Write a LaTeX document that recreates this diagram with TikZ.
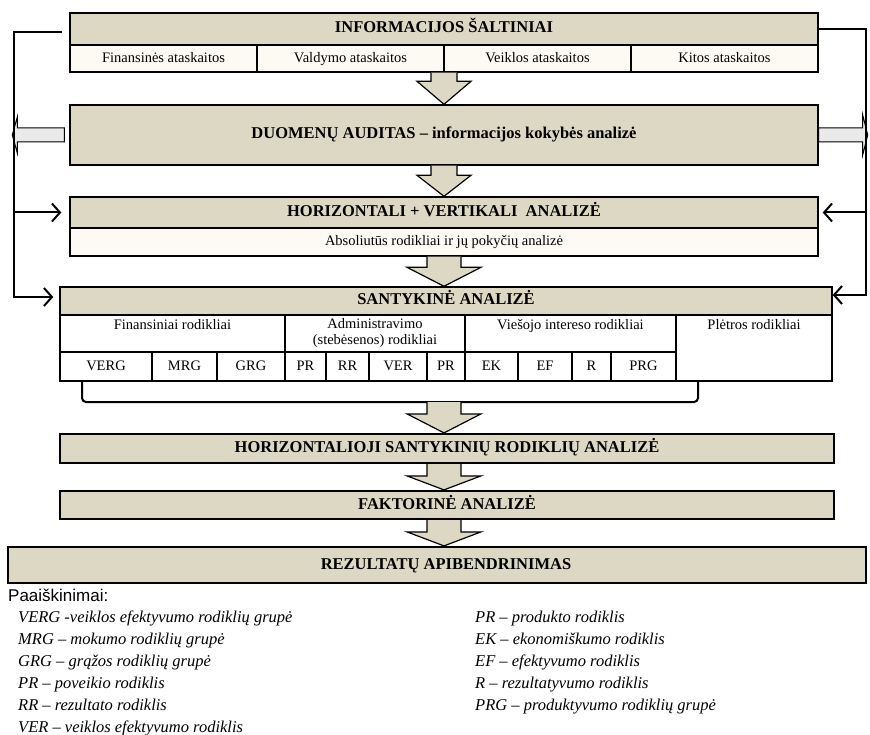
\documentclass[tikz,border=0pt]{standalone}
\usepackage{fontspec}
\setmainfont{Liberation Serif}
\setsansfont{Liberation Sans}
\usepackage{tikz}
\usetikzlibrary{arrows.meta,calc}

\definecolor{boxtan}{RGB}{221,216,196}
\definecolor{rowcream}{RGB}{252,250,242}
\definecolor{hollowgray}{RGB}{234,234,234}

% shaft half width, head half width, head length, from, to
\newcommand{\blockarrow}[5]{%
  \filldraw[blockarr] let \p1=(axis |- #4), \p2=(axis |- #5) in
    (\x1-#1pt,\y1) -- (\x1-#1pt,\y2+#3pt) -- (\x1-#2pt,\y2+#3pt) -- (\x2,\y2)
    -- (\x1+#2pt,\y2+#3pt) -- (\x1+#1pt,\y2+#3pt) -- (\x1+#1pt,\y1);}

\begin{document}
\begin{tikzpicture}[x=1pt,y=-1pt]
\tikzstyle{hdr}=[draw=black,line width=1.4pt,fill=boxtan,inner sep=0pt,text height=11.5pt,text depth=3.5pt,font=\fontsize{16.5}{18}\selectfont\bfseries]
\tikzstyle{sub}=[draw=black,line width=1.4pt,fill=rowcream,inner sep=0pt,text height=10.5pt,text depth=3pt,font=\fontsize{14.5}{16}\selectfont]
\tikzstyle{cell}=[draw=black,line width=1.4pt,fill=white,inner sep=0pt,minimum height=29pt,text height=10.5pt,text depth=3pt,font=\fontsize{14.5}{16}\selectfont]
\tikzstyle{grptext}=[anchor=north,yshift=-4pt,inner sep=0pt,align=center,text height=10.5pt,text depth=3pt,font=\fontsize{14.5}{16}\selectfont]
\tikzstyle{bar}=[hdr,line width=2.2pt]
\tikzstyle{blockarr}=[draw=black,line width=1.2pt,fill=boxtan,line join=miter]
\tikzstyle{fb}=[draw=black,line width=2pt]
\tikzstyle{fbarr}=[fb,-{Straight Barb[length=8pt,width=18pt]}]
\tikzstyle{hollow}=[draw=black,line width=1pt,fill=hollowgray]
\tikzstyle{legend}=[anchor=west,inner sep=0pt,text height=12pt,text depth=4pt,font=\fontsize{16.5}{18}\selectfont\itshape]
\useasboundingbox (0,0) rectangle (870,735);
\coordinate (axis) at (444,0);
\coordinate (lx) at (14,0);
\coordinate (rx) at (866,0);

% information sources
\node[hdr,minimum width=748pt,minimum height=32pt] (info) at (444,29) {INFORMACIJOS ŠALTINIAI};
\node[sub,minimum width=187pt,minimum height=27pt] (infoA) at (163.5,58.5) {Finansinės ataskaitos};
\node[sub,minimum width=187pt,minimum height=27pt] (infoB) at (350.5,58.5) {Valdymo ataskaitos};
\node[sub,minimum width=187pt,minimum height=27pt] (infoC) at (537.5,58.5) {Veiklos ataskaitos};
\node[sub,minimum width=187pt,minimum height=27pt] (infoD) at (724.5,58.5) {Kitos ataskaitos};

% data audit
\node[hdr,minimum width=748pt,minimum height=60pt] (audit) at (444,135) {DUOMENŲ AUDITAS – informacijos kokybės analizė};

% horizontal + vertical
\node[hdr,minimum width=748pt,minimum height=31pt] (hv) at (444,212.5) {HORIZONTALI + VERTIKALI~~ANALIZĖ};
\node[sub,minimum width=748pt,minimum height=28pt] (hvsub) at (444,242) {Absoliutūs rodikliai ir jų pokyčių analizė};

% relative analysis
\coordinate (brL) at (82,381);
\coordinate (brR) at (698,381);
\coordinate (brM) at (444,402);
\draw[fb,rounded corners=4pt] (brL) -- (brL |- brM) -- (brR |- brM) -- (brR);
\node[hdr,minimum width=772pt,minimum height=28pt] (sant) at (446,301) {SANTYKINĖ ANALIZĖ};
\node[cell,minimum width=225pt,minimum height=37pt,label={[grptext]north:Finansiniai rodikliai}] (gFin) at (172.5,333.5) {};
\node[cell,minimum width=180pt,minimum height=37pt,align=center,text height=,text depth=] (gAdm) at (375,333.5) {Administravimo\\(stebėsenos) rodikliai};
\node[cell,minimum width=211pt,minimum height=37pt,label={[grptext]north:Viešojo intereso rodikliai}] (gVie) at (570.5,333.5) {};
\node[cell,minimum width=156pt,minimum height=66pt,label={[grptext]north:Plėtros rodikliai}] (gPle) at (754,348) {};
\node[cell,minimum width=92pt] (c1) at (106,366.5) {VERG};
\node[cell,minimum width=65pt] (c2) at (184.5,366.5) {MRG};
\node[cell,minimum width=68pt] (c3) at (251,366.5) {GRG};
\node[cell,minimum width=41pt] (c4) at (305.5,366.5) {PR};
\node[cell,minimum width=43pt] (c5) at (347.5,366.5) {RR};
\node[cell,minimum width=58pt] (c6) at (398,366.5) {VER};
\node[cell,minimum width=38pt] (c7) at (446,366.5) {PR};
\node[cell,minimum width=53pt] (c8) at (491.5,366.5) {EK};
\node[cell,minimum width=54pt] (c9) at (545,366.5) {EF};
\node[cell,minimum width=39pt] (c10) at (591.5,366.5) {R};
\node[cell,minimum width=65pt] (c11) at (643.5,366.5) {PRG};

% lower bars
\node[bar,minimum width=774pt,minimum height=29pt] (hsr) at (447,448.5) {HORIZONTALIOJI SANTYKINIŲ RODIKLIŲ ANALIZĖ};
\node[bar,minimum width=774pt,minimum height=28pt] (fakt) at (447,505) {FAKTORINĖ ANALIZĖ};
\node[bar,minimum width=858pt,minimum height=36pt,label={[xshift=9pt,text height=11.5pt,text depth=3.5pt,font=\fontsize{16.5}{18}\selectfont\bfseries]center:REZULTATŲ APIBENDRINIMAS}] (rez) at (437,565) {};

% flow arrows
\blockarrow{13}{27}{23}{infoA.south}{audit.north}
\blockarrow{13}{27}{21}{audit.south}{hv.north}
\blockarrow{17}{37}{19}{hvsub.south}{sant.north}
\blockarrow{17}{37}{19}{brM}{hsr.north}
\blockarrow{17}{37}{14}{hsr.south}{fakt.north}
\blockarrow{17}{37}{14}{fakt.south}{rez.north}

% feedback
\filldraw[hollow] ($(audit.west)+(-5,-7)$) -- ++(-47,0) -- ++(0,-11) -- ++(-5,18) -- ++(5,18) -- ++(0,-11) -- ++(47,0) -- cycle;
\filldraw[hollow] ($(audit.east)+(0,-7)$) -- ++(44,0) -- ++(0,-13) -- ++(5,20) -- ++(-5,20) -- ++(0,-13) -- ++(-44,0) -- cycle;
\coordinate (lTop) at (62,32);
\coordinate (santL) at ([yshift=4pt]sant.west);
\coordinate (santR) at ([yshift=6pt]sant.east);
\draw[fbarr,shorten >=6pt] (lTop) -- (lTop -| lx) -- (lx |- santL) -- (santL);
\draw[fbarr,shorten >=8pt] (lx |- hv.west) -- (hv.west);
\draw[fbarr] (info.east) -- (info.east -| rx) -- (rx |- santR) -- (santR);
\draw[fbarr,shorten >=4pt] (rx |- hv.east) -- (hv.east);

% legend
\node[anchor=west,inner sep=0pt,text height=12pt,text depth=4pt,font=\sffamily\fontsize{17}{19}\selectfont] (legtitle) at (8,597) {Paaiškinimai:};
\node[legend] (leg1) at (18,618) {VERG -veiklos efektyvumo rodiklių grupė};
\node[legend] (leg2) at (18,640) {MRG – mokumo rodiklių grupė};
\node[legend] (leg3) at (18,662) {GRG – grąžos rodiklių grupė};
\node[legend] (leg4) at (18,684) {PR – poveikio rodiklis};
\node[legend] (leg5) at (18,706) {RR – rezultato rodiklis};
\node[legend] (leg6) at (18,728) {VER – veiklos efektyvumo rodiklis};
\node[legend] (leg7) at (475,618) {PR – produkto rodiklis};
\node[legend] (leg8) at (475,640) {EK – ekonomiškumo rodiklis};
\node[legend] (leg9) at (475,662) {EF – efektyvumo rodiklis};
\node[legend] (leg10) at (475,684) {R – rezultatyvumo rodiklis};
\node[legend] (leg11) at (475,706) {PRG – produktyvumo rodiklių grupė};
\end{tikzpicture}
\end{document}
